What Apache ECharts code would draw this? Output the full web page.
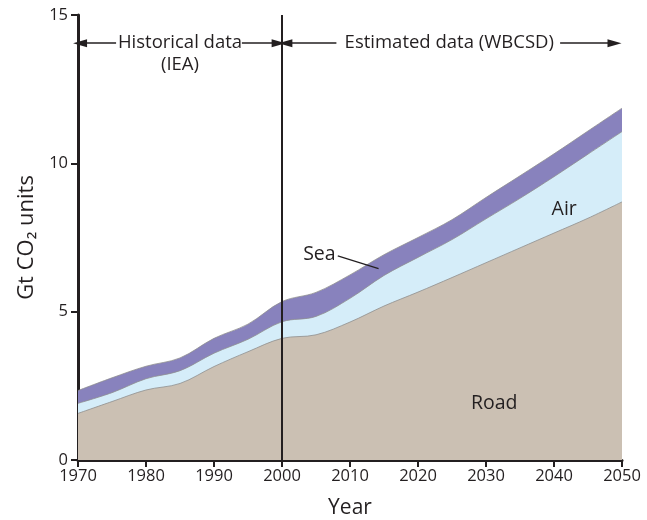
<!DOCTYPE html>
<html>
<head>
<meta charset="utf-8">
<script src="https://cdn.jsdelivr.net/npm/echarts@6/dist/echarts.min.js"></script>
<style>html,body{margin:0;padding:0;background:#fff}#c{width:647px;height:520px}</style>
</head>
<body>
<div id="c"></div>
<script>
const years = [1970,1975,1980,1985,1990,1995,2000,2005,2010,2015,2020,2025,2030,2035,2040,2045,2050];
const road = [1.57,1.97,2.36,2.58,3.15,3.65,4.10,4.22,4.65,5.19,5.66,6.15,6.65,7.15,7.65,8.15,8.70];
const air  = [0.34,0.30,0.38,0.43,0.45,0.42,0.56,0.62,0.80,1.03,1.17,1.28,1.48,1.67,1.90,2.16,2.37];
const sea  = [0.43,0.50,0.42,0.43,0.50,0.51,0.68,0.81,0.79,0.70,0.67,0.67,0.72,0.76,0.77,0.78,0.79];
const xTicks = [1970,1980,1990,2000,2010,2020,2030,2040,2050];
const yTicks = [0,5,10,15];

const FONT = '"Open Sans", "DejaVu Sans", sans-serif';
const TXT = '#231f20';
// cumulative tops (stacking done here so that each band is filled down to zero and overlaid)
const roadTop = road.slice();
const airTop = road.map((v,i)=>v+air[i]);
const seaTop = airTop.map((v,i)=>v+sea[i]);
const pairs = arr => years.map((y,i)=>[y,+arr[i].toFixed(3)]);

const chart = echarts.init(document.getElementById('c'), null, {renderer:'canvas'});
function areaSeries(name, arr, color, z){
  return {
    name, type:'line', data:pairs(arr), smooth:0.35, symbol:'none',
    lineStyle:{color:'#8f8f8f', width:0.8},
    areaStyle:{color, opacity:1, origin:'start'}, z
  };
}
const arrowLine = {color:'#231f20', width:1.5, type:'solid'};
const option = {
  animation:false,
  grid:{left:78, right:25, top:15, bottom:60, containLabel:false, outerBoundsMode:'none'},
  xAxis:{
    type:'value', min:xTicks[0], max:xTicks[xTicks.length-1], interval:10,
    name:'Year', nameLocation:'middle', nameGap:38,
    nameTextStyle:{fontFamily:FONT, fontSize:21, color:TXT},
    axisLine:{lineStyle:{color:'#231f20', width:3}},
    axisTick:{length:7, lineStyle:{color:'#231f20', width:2}},
    axisLabel:{fontFamily:FONT, fontSize:16.5, color:TXT, margin:8, formatter:v=>String(v)},
    splitLine:{show:false}
  },
  yAxis:{
    type:'value', min:yTicks[0], max:yTicks[yTicks.length-1], interval:5,
    name:'Gt CO\u2082 units', nameLocation:'middle', nameGap:40,
    nameTextStyle:{fontFamily:FONT, fontSize:22, color:TXT},
    axisLine:{show:true, lineStyle:{color:'#231f20', width:3}},
    axisTick:{show:true, length:7, lineStyle:{color:'#231f20', width:2}},
    axisLabel:{fontFamily:FONT, fontSize:16.5, color:TXT, margin:10},
    splitLine:{show:false}
  },
  series:[
    areaSeries('Sea', seaTop, '#8882bd', 2),
    areaSeries('Air', airTop, '#d5edf9', 3),
    areaSeries('Road', roadTop, '#cbc0b3', 4),
    {
      type:'line', data:[], z:5, silent:true,
      markLine:{
        silent:true, animation:false, symbol:['none','none'],
        label:{show:false},
        lineStyle:{color:'#231f20', width:2, type:'solid'},
        data:[
          {xAxis:2000},
          [{coord:[1970.3,14.05], symbol:'triangle', symbolSize:[8,14], symbolRotate:90, lineStyle:arrowLine},{coord:[1975.6,14.05], symbol:'none'}],
          [{coord:[1994.1,14.05], symbol:'none', lineStyle:arrowLine},{coord:[1999.5,14.05], symbol:'triangle', symbolSize:[8,14], symbolRotate:-90}],
          [{coord:[2000.5,14.05], symbol:'triangle', symbolSize:[8,14], symbolRotate:90, lineStyle:arrowLine},{coord:[2008.0,14.05], symbol:'none'}],
          [{coord:[2040.9,14.05], symbol:'none', lineStyle:arrowLine},{coord:[2048.9,14.05], symbol:'triangle', symbolSize:[8,14], symbolRotate:-90}],
          [{coord:[2008.2,6.88], symbol:'none', lineStyle:{color:'#231f20', width:1.2, type:'solid'}},{coord:[2014.2,6.45], symbol:'none'}]
        ]
      }
    }
  ]
};
chart.setOption(option);

function px(x,y){ return chart.convertToPixel({gridIndex:0},[x,y]); }
function label(text, x, y, size, align){
  const p = px(x,y);
  return {type:'text', x:p[0], y:p[1], z:10, style:{text, fontFamily:FONT, fontSize:size, fill:TXT, align:align||'center', verticalAlign:'middle'}};
}
chart.setOption({graphic:[
  label('Historical data', 1985.0, 14.05, 18.5),
  label('(IEA)', 1985.0, 13.33, 18.5),
  label('Estimated data (WBCSD)', 2024.6, 14.05, 18.5),
  label('Sea', 2005.5, 6.93, 19.5),
  label('Air', 2041.5, 8.44, 19.5),
  label('Road', 2031.2, 1.92, 19.5)
]});
</script>
</body>
</html>
